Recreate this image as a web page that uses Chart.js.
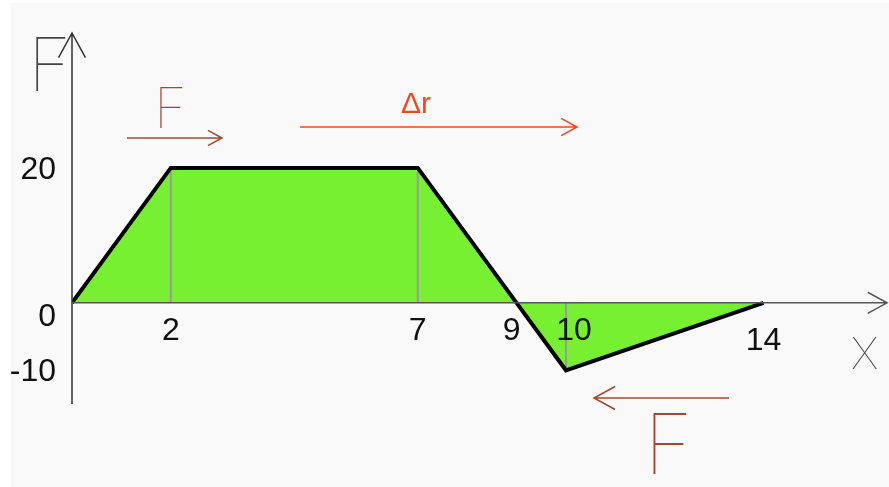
<!DOCTYPE html>
<html>
<head>
<meta charset="utf-8">
<script src="https://cdn.jsdelivr.net/npm/chart.js@4.4.1/dist/chart.umd.min.js"></script>
<style>
  html, body { margin: 0; padding: 0; background: #fff; }
  #wrap { width: 889px; height: 487px; }
</style>
</head>
<body>
<div id="wrap"><canvas id="workChart"></canvas></div>
<script>
    // F(x) data
    var positions = [0, 2, 7, 9, 10, 14];
    var forces = [0, 20, 20, 0, -10, 0];
    var xTicks = [2, 7, 9, 10, 14];
    var yTicks = [20, 0, -10];
    var dropAt = [2, 7, 10];

    var curve = positions.map(function (x, i) { return { x: x, y: forces[i] }; });

    // vertical drop lines from the axis up to the curve
    var drops = [];
    dropAt.forEach(function (x) {
      var y = forces[positions.indexOf(x)];
      drops.push({ x: x, y: 0 }, { x: x, y: y }, { x: x, y: null });
    });

    function arrow(ctx, x1, y1, x2, y2, color, width, head) {
      var a = Math.atan2(y2 - y1, x2 - x1);
      ctx.save();
      ctx.strokeStyle = color;
      ctx.lineWidth = width;
      ctx.beginPath();
      ctx.moveTo(x1, y1);
      ctx.lineTo(x2, y2);
      ctx.moveTo(x2 - head * Math.cos(a - 0.5), y2 - head * Math.sin(a - 0.5));
      ctx.lineTo(x2, y2);
      ctx.lineTo(x2 - head * Math.cos(a + 0.5), y2 - head * Math.sin(a + 0.5));
      ctx.stroke();
      ctx.restore();
    }

    var sketchPlugin = {
      id: 'sketch',
      beforeDraw: function (chart) {
        var ctx = chart.ctx;
        ctx.save();
        ctx.fillStyle = '#f9f9f9';
        ctx.fillRect(11, 3, chart.width - 11, chart.height - 3);
        ctx.restore();
      },
      afterDatasetsDraw: function (chart) {
        var ctx = chart.ctx;
        var xs = chart.scales.x, ys = chart.scales.y;
        var x0 = xs.getPixelForValue(0), y0 = ys.getPixelForValue(0);
        var area = chart.chartArea;

        // axes with open arrow heads
        arrow(ctx, x0, area.bottom, x0, area.top, '#333', 1.5, 28);
        arrow(ctx, x0, y0, area.right, y0, '#555', 1.5, 22);

        ctx.save();
        ctx.fillStyle = '#111';
        ctx.font = '32px "Liberation Sans", Arial, sans-serif';
        ctx.textAlign = 'center';
        ctx.textBaseline = 'middle';
        xTicks.forEach(function (v) {
          var dy = v === 14 ? 38 : 28;
          var dx = v === 9 ? -5 : (v === 10 ? 8 : 0);
          ctx.fillText(String(v), xs.getPixelForValue(v) + dx, y0 + dy);
        });
        ctx.textAlign = 'right';
        yTicks.forEach(function (v) {
          var dy = v === 0 ? 14 : 2;
          ctx.fillText(String(v), x0 - 16, ys.getPixelForValue(v) + dy);
        });

        // axis names
        ctx.textAlign = 'left';
        ctx.textBaseline = 'alphabetic';
        ctx.fillStyle = '#444';
        ctx.font = '100 74px Inter, "DejaVu Sans", sans-serif';
        ctx.fillText('F', 28, 91);
        ctx.font = '100 44px Inter, "DejaVu Sans", sans-serif';
        ctx.fillText('X', 851, 369);

        // force and displacement labels
        ctx.fillStyle = '#a5472e';
        ctx.font = '100 56px Inter, "DejaVu Sans", sans-serif';
        ctx.fillText('F', 154, 128);
        ctx.font = '100 84px Inter, "DejaVu Sans", sans-serif';
        ctx.fillText('F', 644, 474);
        ctx.fillStyle = '#ee4a1e';
        ctx.font = '30px "Liberation Sans", Arial, sans-serif';
        ctx.fillText('\u0394r', 401, 113);
        ctx.restore();

        arrow(ctx, 127, 138, 222, 138, '#a5472e', 1.5, 16);
        arrow(ctx, 300, 127, 577, 127, '#ee4a1e', 1.5, 18);
        arrow(ctx, 729, 398, 594, 398, '#a5472e', 1.5, 24);
      }
    };

    var workChart = new Chart(document.getElementById('workChart'), {
      type: 'line',
      data: {
        datasets: [{
          label: 'outline',
          data: curve,
          borderColor: '#000',
          borderWidth: 4,
          pointRadius: 0,
          fill: false,
          order: 1
        }, {
          label: 'drops',
          data: drops,
          borderColor: '#9a9a9a',
          borderWidth: 2,
          pointRadius: 0,
          spanGaps: false,
          fill: false,
          order: 2
        }, {
          label: 'area',
          data: curve,
          borderWidth: 0,
          pointRadius: 0,
          backgroundColor: '#78f032',
          fill: 'origin',
          order: 3
        }]
      },
      options: {
        responsive: true,
        maintainAspectRatio: false,
        animation: false,
        layout: { padding: { left: 72, top: 33, right: 2, bottom: 83 } },
        plugins: { legend: { display: false }, tooltip: { enabled: false } },
        scales: {
          x: { type: 'linear', min: 0, max: 16.5, display: false },
          y: { min: -15, max: 40, display: false }
        }
      },
      plugins: [sketchPlugin]
    });
</script>
</body>
</html>
